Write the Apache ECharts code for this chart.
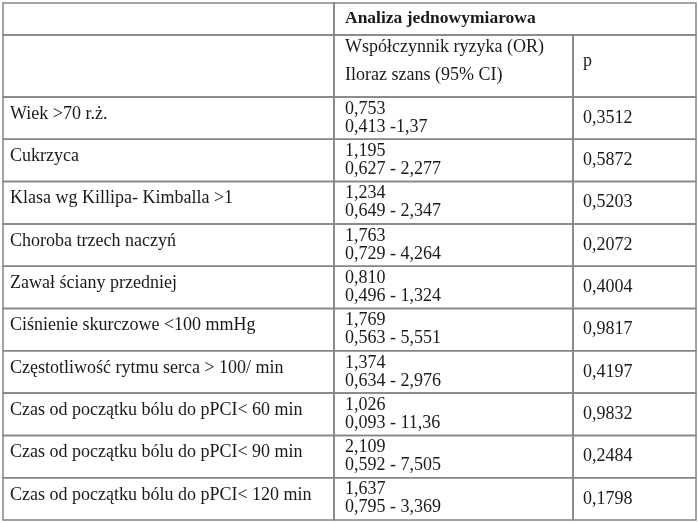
<!DOCTYPE html>
<html>
<head>
<meta charset="utf-8">
<style>
  html, body { margin: 0; padding: 0; background: #fff; }
  #chart { width: 698px; height: 523px; }
</style>
<script src="https://cdn.jsdelivr.net/npm/echarts@6/dist/echarts.min.js"></script>
</head>
<body>
<div id="chart"></div>
<script>
// table content
const groupTitle = 'Analiza jednowymiarowa'
const orHeader = ['Współczynnik ryzyka (OR)', 'Iloraz szans (95% CI)']
const pHeader = 'p'
const factors = [
  'Wiek >70 r.ż.',
  'Cukrzyca',
  'Klasa wg Killipa- Kimballa >1',
  'Choroba trzech naczyń',
  'Zawał ściany przedniej',
  'Ciśnienie skurczowe <100 mmHg',
  'Częstotliwość rytmu serca > 100/ min',
  'Czas od początku bólu do pPCI< 60 min',
  'Czas od początku bólu do pPCI< 90 min',
  'Czas od początku bólu do pPCI< 120 min'
]
const orValues = ['0,753', '1,195', '1,234', '1,763', '0,810', '1,769', '1,374', '1,026', '2,109', '1,637']
const ciValues = [
  '0,413 -1,37',
  '0,627 - 2,277',
  '0,649 - 2,347',
  '0,729 - 4,264',
  '0,496 - 1,324',
  '0,563 - 5,551',
  '0,634 - 2,976',
  '0,093 - 11,36',
  '0,592 - 7,505',
  '0,795 - 3,369'
]
const pValues = ['0,3512', '0,5872', '0,5203', '0,2072', '0,4004', '0,9817', '0,4197', '0,9832', '0,2484', '0,1798']

// layout (axis units = px inside the grid)
const colEdges = [0, 331, 570, 693]
const headHeights = [32, 62]
const rowHeight = 42.3
const tableHeight = headHeights[0] + headHeights[1] + rowHeight * factors.length

const FONT = '18px "Liberation Serif", "Times New Roman", serif'
const BOLD = 'bold 17.5px "Liberation Serif", "Times New Roman", serif'
const LINE = '#858585'
const INK = '#1a1a1a'

const rowTop = (i) => {
  if (i === 0) return 0
  if (i === 1) return headHeights[0]
  return headHeights[0] + headHeights[1] + (i - 2) * rowHeight
}

const chart = echarts.init(document.getElementById('chart'))

const renderItem = (params, api) => {
  const r = api.value(0)
  const y0 = rowTop(r)
  const y1 = rowTop(r + 1)
  const children = []

  const cell = (x0, x1) => {
    const a = api.coord([x0, y0])
    const b = api.coord([x1, y1])
    children.push({
      type: 'rect',
      shape: { x: a[0], y: a[1], width: b[0] - a[0], height: b[1] - a[1] },
      style: { fill: null, stroke: LINE, lineWidth: 1.5 }
    })
  }
  const text = (str, x, y, font) => {
    const pt = api.coord([x, y])
    children.push({
      type: 'text',
      style: {
        text: str, x: pt[0], y: pt[1], font: font || FONT, fill: INK,
        textAlign: 'left', textVerticalAlign: 'middle', align: 'left', verticalAlign: 'middle'
      }
    })
  }

  const mid = (y0 + y1) / 2
  if (r === 0) {
    cell(colEdges[0], colEdges[1])
    cell(colEdges[1], colEdges[3])
    text(groupTitle, colEdges[1] + 11, mid - 1, BOLD)
  } else if (r === 1) {
    cell(colEdges[0], colEdges[1])
    cell(colEdges[1], colEdges[2])
    cell(colEdges[2], colEdges[3])
    text(orHeader[0], colEdges[1] + 11, y0 + 12)
    text(orHeader[1], colEdges[1] + 11, y0 + 40)
    text(pHeader, colEdges[2] + 10, mid - 5)
  } else {
    const k = r - 2
    cell(colEdges[0], colEdges[1])
    cell(colEdges[1], colEdges[2])
    cell(colEdges[2], colEdges[3])
    text(factors[k], 7, mid - 4)
    text(orValues[k], colEdges[1] + 11, y0 + 12)
    text(ciValues[k], colEdges[1] + 11, y0 + 30)
    text(pValues[k], colEdges[2] + 10, mid)
  }
  return { type: 'group', children }
}

const rows = []
for (let i = 0; i < factors.length + 2; i++) rows.push([i])

chart.setOption({
  animation: false,
  grid: { left: 3, top: 3, width: colEdges[3], height: tableHeight },
  xAxis: { type: 'value', min: 0, max: colEdges[3], show: false },
  yAxis: { type: 'value', min: 0, max: tableHeight, inverse: true, show: false },
  series: [{
    type: 'custom',
    renderItem,
    data: rows,
    clip: false
  }]
})
</script>
</body>
</html>
